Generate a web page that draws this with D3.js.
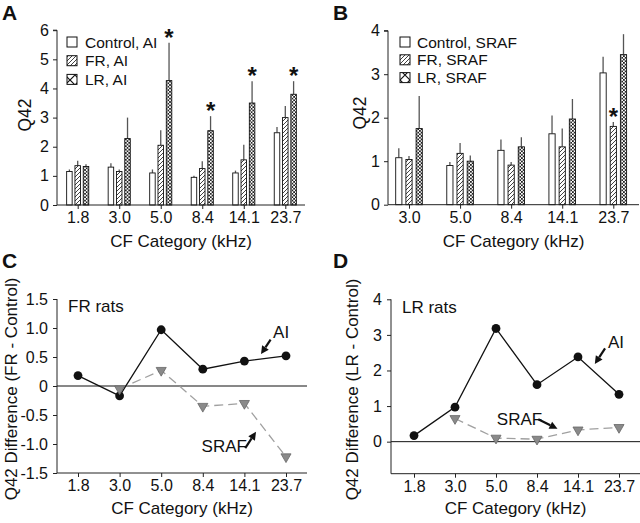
<!DOCTYPE html>
<html>
<head>
<meta charset="utf-8">
<script src="https://cdn.jsdelivr.net/npm/d3@7"></script>
<style>
  html, body { margin: 0; padding: 0; background: #fff; }
  svg { display: block; font-family: "Liberation Sans", Arial, sans-serif; }
</style>
</head>
<body>
<script>
// ---------------- DATA ----------------
const catsA = ["1.8", "3.0", "5.0", "8.4", "14.1", "23.7"];
const catsB = ["3.0", "5.0", "8.4", "14.1", "23.7"];
const seriesA = ["Control, AI", "FR, AI", "LR, AI"];
const seriesB = ["Control, SRAF", "FR, SRAF", "LR, SRAF"];

const controlAI = [1.15, 1.30, 1.10, 0.95, 1.10, 2.48];
const frAI      = [1.35, 1.15, 2.05, 1.25, 1.55, 3.00];
const lrAI      = [1.32, 2.28, 4.27, 2.55, 3.50, 3.80];
const controlAIerr = [0.07, 0.13, 0.12, 0.05, 0.08, 0.20];
const frAIerr      = [0.17, 0.07, 0.52, 0.25, 0.52, 0.40];
const lrAIerr      = [0.08, 0.72, 1.30, 0.50, 0.75, 0.45];
const starsA = [null, null, "LR, AI", "LR, AI", "LR, AI", "LR, AI"];

const controlSRAF = [1.08, 0.90, 1.25, 1.63, 3.03];
const frSRAF      = [1.04, 1.18, 0.91, 1.33, 1.80];
const lrSRAF      = [1.75, 1.00, 1.33, 1.97, 3.45];
const controlSRAFerr = [0.22, 0.08, 0.25, 0.42, 0.37];
const frSRAFerr      = [0.08, 0.24, 0.07, 0.42, 0.10];
const lrSRAFerr      = [0.75, 0.13, 0.22, 0.46, 0.47];
const starsB = [null, null, null, null, "FR, SRAF"];

const catsDiff = ["1.8", "3.0", "5.0", "8.4", "14.1", "23.7"];
const frDiffAI   = [0.18, -0.17, 0.97, 0.29, 0.43, 0.52];
const frDiffSRAF = [null, -0.05, 0.27, -0.35, -0.30, -1.22];
const lrDiffAI   = [0.17, 0.97, 3.18, 1.60, 2.38, 1.33];
const lrDiffSRAF = [null, 0.65, 0.10, 0.07, 0.33, 0.40];

const ticksA = [0, 1, 2, 3, 4, 5, 6];
const ticksB = [0, 1, 2, 3, 4];
const ticksC = [-1.5, -1.0, -0.5, 0, 0.5, 1.0, 1.5];
const ticksCLabels = ["-1.5", "-1.0", "-0.5", "0", "0.5", "1.0", "1.5"];
const ticksD = [0, 1, 2, 3, 4];

// annotations (category-index position, value)
const annC = [
  {text: "AI", i: 4.69, v: 0.83, arrow: [[4.63, 0.80], [4.40, 0.55]]},
  {text: "SRAF", i: 2.97, v: -1.13, arrow: [[4.02, -1.07], [4.28, -0.79]]}
];
const annD = [
  {text: "AI", i: 4.73, v: 2.63, arrow: [[4.66, 2.62], [4.41, 2.18]]},
  {text: "SRAF", i: 2.02, v: 0.47, arrow: [[3.03, 0.63], [3.50, 0.36]]}
];

// ---------------- DRAW ----------------
const W = 640, H = 523;
const svg = d3.select("body").append("svg").attr("width", W).attr("height", H);
const defs = svg.append("defs");

const hatch = defs.append("pattern").attr("id", "hatch").attr("patternUnits", "userSpaceOnUse")
  .attr("width", 4).attr("height", 4);
hatch.append("rect").attr("width", 4).attr("height", 4).attr("fill", "#fff");
hatch.append("path").attr("d", "M-1,1 L1,-1 M0,4 L4,0 M3,5 L5,3")
  .attr("stroke", "#111").attr("stroke-width", 0.8);

const cross = defs.append("pattern").attr("id", "cross").attr("patternUnits", "userSpaceOnUse")
  .attr("width", 3.4).attr("height", 3.4);
cross.append("rect").attr("width", 3.4).attr("height", 3.4).attr("fill", "#fff");
cross.append("path").attr("d", "M0,0 L3.4,3.4 M0,3.4 L3.4,0")
  .attr("stroke", "#111").attr("stroke-width", 0.8);

const crossBig = defs.append("pattern").attr("id", "crossBig").attr("patternUnits", "userSpaceOnUse")
  .attr("width", 10).attr("height", 10);
crossBig.append("rect").attr("width", 10).attr("height", 10).attr("fill", "#fff");
crossBig.append("path").attr("d", "M0,0 L10,10 M0,10 L10,0")
  .attr("stroke", "#111").attr("stroke-width", 1.2);

const fills = ["#fff", "url(#hatch)", "url(#cross)"];
const legendFills = ["#fff", "url(#hatch)", "url(#crossBig)"];

const FONT_TICK = 16, FONT_LEG = 15.5, FONT_TITLE = 17, FONT_YT = 17;
const axisColor = "#222";

function styleAxis(g) {
  g.selectAll("path.domain").attr("stroke", axisColor).attr("stroke-width", 1);
  g.selectAll(".tick line").attr("stroke", axisColor);
  g.selectAll(".tick text").attr("fill", "#111").attr("font-size", FONT_TICK)
    .attr("font-family", "Liberation Sans, Arial, sans-serif");
}

function panelLabel(t, x, y) {
  svg.append("text").attr("x", x).attr("y", y).attr("font-size", 21).attr("font-weight", "bold")
    .attr("fill", "#111").text(t);
}

function barPanel(opt) {
  const {cats, series, vals, errs, stars, x0, x1, xa0, xa1, y, pitch, bw, ticks, yTitleX, yTitleY, legendX, legendTextX, legendY, legendStep} = opt;
  const x = d3.scalePoint().domain(cats).range([x0, x1]);
  const sub = d3.scaleBand().domain(series).range([-1.5 * pitch, 1.5 * pitch])
    .paddingInner(1 - bw / pitch).paddingOuter((1 - bw / pitch) / 2);
  const g = svg.append("g");
  series.forEach((s, si) => {
    const rows = cats.map((c, ci) => ({c, v: vals[si][ci], e: errs[si][ci]}));
    g.selectAll(null).data(rows).enter().append("line")
      .attr("x1", d => x(d.c) + sub(s) + sub.bandwidth() / 2)
      .attr("x2", d => x(d.c) + sub(s) + sub.bandwidth() / 2)
      .attr("y1", d => y(d.v)).attr("y2", d => y(d.v + d.e))
      .attr("stroke", "#555").attr("stroke-width", 1.3);
    g.selectAll(null).data(rows).enter().append("rect")
      .attr("x", d => x(d.c) + sub(s)).attr("width", sub.bandwidth())
      .attr("y", d => y(d.v)).attr("height", d => y(0) - y(d.v))
      .attr("fill", fills[si]).attr("stroke", "#111").attr("stroke-width", 0.9);
  });
  cats.forEach((c, ci) => {
    if (!stars[ci]) return;
    const si = series.indexOf(stars[ci]);
    g.append("text").attr("x", x(c) + sub(stars[ci]) + sub.bandwidth() / 2)
      .attr("y", y(vals[si][ci] + errs[si][ci]) + 3)
      .attr("text-anchor", "middle").attr("font-size", 24).attr("font-weight", "bold")
      .attr("fill", "#111").text("*");
  });
  const yAxis = d3.axisLeft(y).tickValues(ticks).tickSize(4).tickPadding(4).tickFormat(d3.format("d"));
  const ga = svg.append("g").attr("transform", `translate(${xa0},0)`).call(yAxis);
  styleAxis(ga);
  ga.select("path.domain").attr("d", `M-4,${y(ticks[ticks.length - 1])}H0V${y(0)}`);
  const xAxis = d3.axisBottom(x).tickSize(4).tickPadding(3);
  const gx = svg.append("g").attr("transform", `translate(0,${y(0)})`).call(xAxis);
  styleAxis(gx);
  gx.select("path.domain").attr("d", `M${xa0},0H${xa1}`);
  svg.append("text").attr("transform", `translate(${yTitleX},${yTitleY}) rotate(-90)`)
    .attr("text-anchor", "middle").attr("font-size", FONT_TITLE + 0.5).attr("fill", "#111").text("Q42");
  svg.append("text").attr("x", (xa0 + xa1) / 2).attr("y", 247).attr("text-anchor", "middle")
    .attr("font-size", FONT_TITLE).attr("fill", "#111").text("CF Category (kHz)");
  series.forEach((s, si) => {
    const cy = legendY + si * legendStep;
    svg.append("rect").attr("x", legendX).attr("y", cy - 5).attr("width", 10).attr("height", 10)
      .attr("fill", legendFills[si]).attr("stroke", "#111").attr("stroke-width", 1);
    svg.append("text").attr("x", legendTextX).attr("y", cy + 5.5).attr("font-size", FONT_LEG)
      .attr("fill", "#111").text(s);
  });
}

barPanel({
  cats: catsA, series: seriesA,
  vals: [controlAI, frAI, lrAI], errs: [controlAIerr, frAIerr, lrAIerr], stars: starsA,
  x0: 77.7, x1: 285.3, xa0: 57, xa1: 305,
  y: d3.scaleLinear().domain([0, 6]).range([205, 30.2]),
  pitch: 8.3, bw: 5.5, ticks: ticksA, yTitleX: 31, yTitleY: 115,
  legendX: 67, legendTextX: 85, legendY: 42, legendStep: 18.7
});
barPanel({
  cats: catsB, series: seriesB,
  vals: [controlSRAF, frSRAF, lrSRAF], errs: [controlSRAFerr, frSRAFerr, lrSRAFerr], stars: starsB,
  x0: 409, x1: 613.3, xa0: 388, xa1: 639,
  y: d3.scaleLinear().domain([0, 4]).range([204.7, 30.7]),
  pitch: 10.2, bw: 6.2, ticks: ticksB, yTitleX: 366, yTitleY: 113,
  legendX: 400, legendTextX: 417, legendY: 42, legendStep: 17.8
});

panelLabel("A", 2, 20);
panelLabel("B", 333, 20);
panelLabel("C", 2, 268);
panelLabel("D", 333, 268);

function diffPanel(opt) {
  const {ai, sraf, x0, x1, xa0, xa1, y, ticks, tickLabels, yTitle, yTitleX, ratsLabel, ratsX, ratsY, ann} = opt;
  const xi = d3.scaleLinear().domain([0, catsDiff.length - 1]).range([x0, x1]);
  const x = d3.scalePoint().domain(catsDiff).range([x0, x1]);
  const yBottom = y.range()[0], yTop = y.range()[1];
  svg.append("line").attr("x1", xa0).attr("x2", xa1).attr("y1", y(0)).attr("y2", y(0))
    .attr("stroke", "#111").attr("stroke-width", 1);
  const yAxis = d3.axisLeft(y).tickValues(ticks).tickSize(4).tickPadding(5)
    .tickFormat((d, i) => tickLabels ? tickLabels[i] : d3.format("d")(d));
  const ga = svg.append("g").attr("transform", `translate(${xa0},0)`).call(yAxis);
  styleAxis(ga);
  ga.select("path.domain").attr("d", `M0,${yTop}V${yBottom}`);
  const xAxis = d3.axisBottom(x).tickSize(4).tickPadding(3);
  const gx = svg.append("g").attr("transform", `translate(0,${yBottom})`).call(xAxis);
  styleAxis(gx);
  gx.select("path.domain").attr("d", `M${xa0},0H${xa1}`);
  const srafPts = catsDiff.map((c, i) => ({c, v: sraf[i]})).filter(d => d.v !== null);
  svg.append("path").datum(srafPts)
    .attr("d", d3.line().x(d => x(d.c)).y(d => y(d.v)))
    .attr("fill", "none").attr("stroke", "#a0a0a0").attr("stroke-width", 1.3)
    .attr("stroke-dasharray", "9,5");
  const aiPts = catsDiff.map((c, i) => ({c, v: ai[i]}));
  svg.append("path").datum(aiPts)
    .attr("d", d3.line().x(d => x(d.c)).y(d => y(d.v)))
    .attr("fill", "none").attr("stroke", "#111").attr("stroke-width", 1.3);
  svg.selectAll(null).data(aiPts).enter().append("circle")
    .attr("cx", d => x(d.c)).attr("cy", d => y(d.v)).attr("r", 4.4).attr("fill", "#111");
  const tri = d3.symbol().type(d3.symbolTriangle).size(44);
  svg.selectAll(null).data(srafPts).enter().append("path")
    .attr("d", tri()).attr("transform", d => `translate(${x(d.c)},${y(d.v)}) rotate(180)`)
    .attr("fill", "#8a8a8a").attr("stroke", "#666").attr("stroke-width", 0.8);
  ann.forEach(a => {
    svg.append("text").attr("x", xi(a.i)).attr("y", y(a.v)).attr("font-size", FONT_TITLE)
      .attr("fill", "#111").text(a.text);
    const [t, h] = a.arrow;
    const tx = xi(t[0]), ty = y(t[1]), hx = xi(h[0]), hy = y(h[1]);
    const ang = Math.atan2(hy - ty, hx - tx);
    const L = 8, Wd = 4;
    const bx = hx - L * Math.cos(ang), by = hy - L * Math.sin(ang);
    svg.append("line").attr("x1", tx).attr("y1", ty).attr("x2", bx).attr("y2", by)
      .attr("stroke", "#111").attr("stroke-width", 2.2);
    svg.append("path").attr("d", `M${hx},${hy}L${bx + Wd * Math.sin(ang)},${by - Wd * Math.cos(ang)}L${bx - Wd * Math.sin(ang)},${by + Wd * Math.cos(ang)}Z`)
      .attr("fill", "#111");
  });
  svg.append("text").attr("x", ratsX).attr("y", ratsY).attr("font-size", FONT_TITLE)
    .attr("fill", "#111").text(ratsLabel);
  svg.append("text").attr("transform", `translate(${yTitleX},${(yTop + yBottom) / 2 + 3}) rotate(-90)`)
    .attr("text-anchor", "middle").attr("font-size", FONT_YT).attr("fill", "#111").text(yTitle);
  svg.append("text").attr("x", (xa0 + xa1) / 2).attr("y", 514).attr("text-anchor", "middle")
    .attr("font-size", FONT_TITLE).attr("fill", "#111").text("CF Category (kHz)");
}

diffPanel({
  ai: frDiffAI, sraf: frDiffSRAF, x0: 78, x1: 286, xa0: 57, xa1: 307,
  y: d3.scaleLinear().domain([-1.5, 1.5]).range([473, 299]),
  ticks: ticksC, tickLabels: ticksCLabels, yTitle: "Q42 Difference (FR - Control)", yTitleX: 16.5,
  ratsLabel: "FR rats", ratsX: 68, ratsY: 312, ann: annC
});
diffPanel({
  ai: lrDiffAI, sraf: lrDiffSRAF, x0: 414, x1: 619, xa0: 391, xa1: 640,
  y: d3.scaleLinear().domain([-0.9, 4]).range([473.7, 299.3]),
  ticks: ticksD, tickLabels: null, yTitle: "Q42 Difference (LR - Control)", yTitleX: 358,
  ratsLabel: "LR rats", ratsX: 402, ratsY: 313, ann: annD
});
</script>
</body>
</html>
